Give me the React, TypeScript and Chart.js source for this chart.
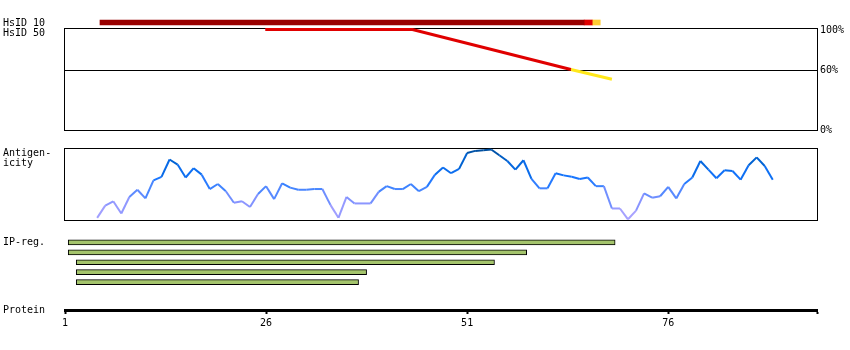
import React, { useEffect, useRef } from "react";
import { Chart, registerables } from "chart.js";

Chart.register(...registerables);

// ---------- data ----------
const residueMin = 1;
const residueMax = 94.5;

const hsid10Rows = ["HsID 10"];
const hsid10Segments: [number, number][] = [
  [5.35, 65.55],
  [65.55, 66.55],
  [66.55, 67.55],
];

const hsid50RedX = [25.9, 44.2, 63.9];
const hsid50RedY = [100.5, 100.5, 60.5];
const hsid50YellowX = [63.9, 69.0];
const hsid50YellowY = [60.5, 50.7];
const percentTicks = [0, 60, 100];
const percentMax = 102;

const antigenFirstResidue = 5;
const antigenicity = [
  0.03, 0.2, 0.26, 0.09, 0.32, 0.42, 0.3, 0.55, 0.6, 0.84,
  0.77, 0.59, 0.72, 0.63, 0.43, 0.5, 0.4, 0.24, 0.26, 0.18,
  0.36, 0.47, 0.29, 0.51, 0.45, 0.42, 0.42, 0.43, 0.43, 0.21,
  0.03, 0.32, 0.23, 0.23, 0.23, 0.39, 0.47, 0.43, 0.43, 0.5,
  0.4, 0.46, 0.63, 0.73, 0.65, 0.71, 0.93, 0.96, 0.97, 0.98,
  0.9, 0.82, 0.7, 0.83, 0.57, 0.44, 0.44, 0.65, 0.62, 0.6,
  0.57, 0.59, 0.47, 0.47, 0.16, 0.16, 0.01, 0.13, 0.37, 0.31,
  0.33, 0.46, 0.3, 0.5, 0.59, 0.82, 0.7, 0.58, 0.69, 0.68,
  0.56, 0.76, 0.87, 0.75, 0.56,
];

const ipRegions = ["IP1", "IP2", "IP3", "IP4", "IP5"];
const ipStarts = [1.4, 1.4, 2.4, 2.4, 2.4];
const ipEnds = [69.4, 58.4, 54.4, 38.5, 37.5];

const proteinTicks = [1, 26, 51, 76];

// ---------- styles ----------
const MONO = "'DejaVu Sans Mono', monospace";
const hsid10Colors = ["#990000", "#e00000", "#ffcc33"];
const antigenStops: [number, [number, number, number]][] = [
  [0.0, [180, 168, 255]],
  [0.25, [136, 148, 255]],
  [0.45, [64, 132, 255]],
  [0.6, [20, 116, 255]],
  [0.8, [0, 100, 215]],
  [1.0, [0, 76, 150]],
];

function antigenColor(v: number): string {
  const t = Math.max(0, Math.min(1, v));
  for (let i = 1; i < antigenStops.length; i++) {
    const [p1, c1] = antigenStops[i];
    const [p0, c0] = antigenStops[i - 1];
    if (t <= p1) {
      const f = (t - p0) / (p1 - p0);
      const c = c0.map((a, k) => Math.round(a + (c1[k] - a) * f));
      return `rgb(${c[0]},${c[1]},${c[2]})`;
    }
  }
  return "rgb(0,76,150)";
}

const boxBorder = {
  id: "boxBorder",
  beforeDatasetsDraw(chart: any) {
    const { ctx, chartArea } = chart;
    const { left, top, right, bottom } = chartArea;
    ctx.save();
    ctx.strokeStyle = "#000";
    ctx.lineWidth = 1;
    ctx.strokeRect(Math.round(left) - 0.5, Math.round(top) + 0.5, Math.round(right - left) + 1, Math.round(bottom - top));
    ctx.restore();
  },
};

const hiddenX = { type: "linear", min: residueMin, max: residueMax, display: false };
const basePlugins = { legend: { display: false }, tooltip: { enabled: false } };
const sidePad = { left: 65, right: 33 };

function ChartCanvas({ top, height, config }: { top: number; height: number; config: any }) {
  const ref = useRef<HTMLCanvasElement>(null);
  useEffect(() => {
    const chart = new Chart(ref.current as HTMLCanvasElement, config);
    return () => chart.destroy();
  }, []);
  return (
    <div style={{ position: "absolute", left: 0, top, width: 850, height }}>
      <canvas ref={ref} width={850} height={height} style={{ display: "block" }} />
    </div>
  );
}

const hsid10Config = {
  type: "bar",
  data: {
    labels: hsid10Rows,
    datasets: hsid10Segments.map((seg, i) => ({
      data: [seg],
      backgroundColor: hsid10Colors[i],
      borderWidth: 0,
      barThickness: 5,
      grouped: false,
    })),
  },
  options: {
    indexAxis: "y",
    animation: false,
    responsive: false,
    plugins: basePlugins,
    layout: { padding: { ...sidePad, top: 0, bottom: 0 } },
    scales: { x: hiddenX, y: { display: false } },
  },
};

const hsid50Config = {
  type: "line",
  data: {
    datasets: [
      {
        data: hsid50RedX.map((x, i) => ({ x, y: hsid50RedY[i] })),
        borderColor: "#e00000",
        borderWidth: 3,
        pointRadius: 0,
        tension: 0,
      },
      {
        data: hsid50YellowX.map((x, i) => ({ x, y: hsid50YellowY[i] })),
        borderColor: "#ffe81a",
        borderWidth: 3,
        pointRadius: 0,
        tension: 0,
      },
    ],
  },
  options: {
    animation: false,
    responsive: false,
    plugins: basePlugins,
    layout: { padding: { left: 65, right: 0, top: 28, bottom: 10 } },
    scales: {
      x: hiddenX,
      y: {
        type: "linear",
        min: 0,
        max: percentMax,
        position: "right",
        afterBuildTicks: (s: any) => {
          s.ticks = percentTicks.map((v) => ({ value: v }));
        },
        afterFit: (s: any) => {
          s.width = 33;
        },
        ticks: {
          callback: (v: any) => v + "%",
          font: { family: MONO, size: 10 },
          color: "#000",
          padding: 3,
        },
        grid: {
          color: (c: any) => (c.tick && c.tick.value === 60 ? "#000" : "rgba(0,0,0,0)"),
          drawTicks: false,
          lineWidth: 1,
        },
        border: { display: false },
      },
    },
  },
  plugins: [boxBorder],
};

const antigenConfig = {
  type: "line",
  data: {
    datasets: [
      {
        data: antigenicity.map((v, i) => ({ x: antigenFirstResidue + i, y: v })),
        borderWidth: 2,
        pointRadius: 0,
        tension: 0,
        borderColor: "#3080ff",
        segment: {
          borderColor: (c: any) => antigenColor((c.p0.parsed.y + c.p1.parsed.y) / 2),
        },
      },
    ],
  },
  options: {
    animation: false,
    responsive: false,
    plugins: basePlugins,
    layout: { padding: { ...sidePad, top: 8, bottom: 10 } },
    scales: { x: hiddenX, y: { type: "linear", min: 0, max: 1, display: false } },
  },
  plugins: [boxBorder],
};

const ipConfig = {
  type: "bar",
  data: {
    labels: ipRegions,
    datasets: [
      {
        data: ipStarts.map((s, i) => [s, ipEnds[i]]),
        backgroundColor: "#a4c46c",
        borderColor: "#000",
        borderWidth: 1,
        borderSkipped: false,
        barThickness: 5,
      },
    ],
  },
  options: {
    indexAxis: "y",
    animation: false,
    responsive: false,
    plugins: basePlugins,
    layout: { padding: { ...sidePad, top: 0.5, bottom: 0 } },
    scales: { x: hiddenX, y: { display: false } },
  },
};

const proteinConfig = {
  type: "line",
  data: { datasets: [] },
  options: {
    animation: false,
    responsive: false,
    plugins: basePlugins,
    layout: { padding: { ...sidePad, top: 0, bottom: 0 } },
    scales: {
      y: { display: false },
      x: {
        type: "linear",
        min: residueMin,
        max: residueMax,
        position: "bottom",
        afterBuildTicks: (s: any) => {
          s.ticks = [...proteinTicks, residueMax].map((v) => ({ value: v }));
        },
        afterFit: (s: any) => {
          s.height = 20;
        },
        ticks: {
          autoSkip: false,
          maxRotation: 0,
          callback: (v: any) => (proteinTicks.includes(v) ? String(v) : ""),
          font: { family: MONO, size: 10 },
          color: "#000",
          padding: 3,
        },
        grid: {
          drawOnChartArea: false,
          drawTicks: true,
          tickLength: 4,
          tickWidth: 2,
          tickColor: "#000",
          color: "#000",
        },
        border: { display: true, color: "#000", width: 3 },
      },
    },
  },
};

const labelStyle: React.CSSProperties = {
  position: "absolute",
  left: 3,
  fontFamily: MONO,
  fontSize: 10,
  lineHeight: "10px",
  color: "#000",
  whiteSpace: "pre",
};

export default function App() {
  return (
    <div style={{ position: "absolute", left: 0, top: 0, width: 850, height: 350, background: "#fff", overflow: "hidden" }}>
      <ChartCanvas top={0} height={140} config={hsid50Config} />
      <ChartCanvas top={15} height={15} config={hsid10Config} />
      <ChartCanvas top={140} height={90} config={antigenConfig} />
      <ChartCanvas top={237} height={50} config={ipConfig} />
      <ChartCanvas top={290} height={40} config={proteinConfig} />
      <div style={{ ...labelStyle, top: 18 }}>HsID 10</div>
      <div style={{ ...labelStyle, top: 28 }}>HsID 50</div>
      <div style={{ ...labelStyle, top: 148 }}>{"Antigen-\nicity"}</div>
      <div style={{ ...labelStyle, top: 237 }}>IP-reg.</div>
      <div style={{ ...labelStyle, top: 305 }}>Protein</div>
    </div>
  );
}
